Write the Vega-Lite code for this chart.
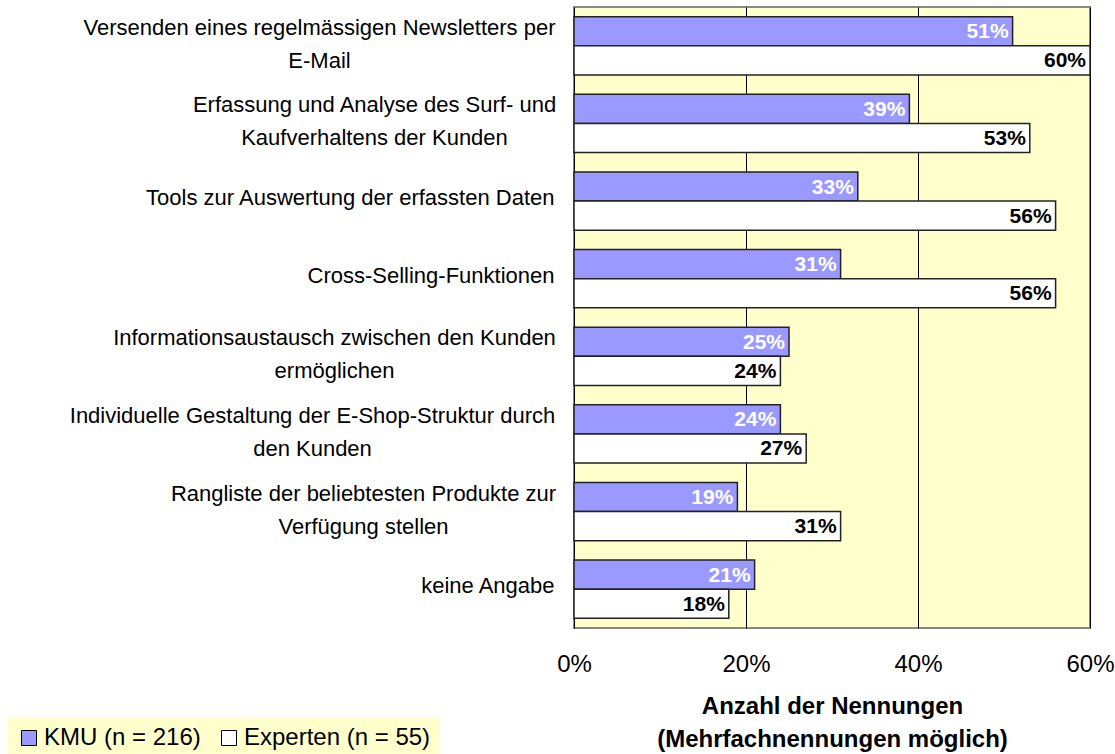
{
  "$schema": "https://vega.github.io/schema/vega-lite/v6.json",
  "autosize": "none",
  "width": 516,
  "height": 621,
  "padding": {"left": 574, "top": 7, "right": 25, "bottom": 126},
  "background": "#FFFFFF",
  "config": {
    "font": "Liberation Sans",
    "view": {"stroke": "#888888", "strokeWidth": 2, "fill": "#FFFFCC"}
  },
  "data": {
    "values": [
      {"cat": "Versenden eines regelmässigen Newsletters per|E-Mail", "grp": "KMU (n = 216)", "v": 0.51},
      {"cat": "Versenden eines regelmässigen Newsletters per|E-Mail", "grp": "Experten (n = 55)", "v": 0.60},
      {"cat": "Erfassung und Analyse des Surf- und|Kaufverhaltens der Kunden", "grp": "KMU (n = 216)", "v": 0.39},
      {"cat": "Erfassung und Analyse des Surf- und|Kaufverhaltens der Kunden", "grp": "Experten (n = 55)", "v": 0.53},
      {"cat": "Tools zur Auswertung der erfassten Daten", "grp": "KMU (n = 216)", "v": 0.33},
      {"cat": "Tools zur Auswertung der erfassten Daten", "grp": "Experten (n = 55)", "v": 0.56},
      {"cat": "Cross-Selling-Funktionen", "grp": "KMU (n = 216)", "v": 0.31},
      {"cat": "Cross-Selling-Funktionen", "grp": "Experten (n = 55)", "v": 0.56},
      {"cat": "Informationsaustausch zwischen den Kunden|ermöglichen", "grp": "KMU (n = 216)", "v": 0.25},
      {"cat": "Informationsaustausch zwischen den Kunden|ermöglichen", "grp": "Experten (n = 55)", "v": 0.24},
      {"cat": "Individuelle Gestaltung der E-Shop-Struktur durch|den Kunden", "grp": "KMU (n = 216)", "v": 0.24},
      {"cat": "Individuelle Gestaltung der E-Shop-Struktur durch|den Kunden", "grp": "Experten (n = 55)", "v": 0.27},
      {"cat": "Rangliste der beliebtesten Produkte zur|Verfügung stellen", "grp": "KMU (n = 216)", "v": 0.19},
      {"cat": "Rangliste der beliebtesten Produkte zur|Verfügung stellen", "grp": "Experten (n = 55)", "v": 0.31},
      {"cat": "keine Angabe", "grp": "KMU (n = 216)", "v": 0.21},
      {"cat": "keine Angabe", "grp": "Experten (n = 55)", "v": 0.18}
    ]
  },
  "encoding": {
    "y": {
      "field": "cat",
      "type": "nominal",
      "sort": null,
      "scale": {"paddingInner": 0.25, "paddingOuter": 0.125},
      "axis": {
        "title": null,
        "labelExpr": "split(datum.label, '|')",
        "labelFontSize": 22,
        "labelColor": "#000000",
        "labelLineHeight": 33,
        "labelOffset": {"condition": {"test": "indexof(datum.value, '|') >= 0", "value": -18}, "value": -3},
        "labelAlign": {"condition": {"test": "indexof(datum.value, '|') >= 0", "value": "center"}, "value": "right"},
        "labelPadding": {
          "condition": [
            {"test": "indexof(datum.value, 'Versenden') >= 0", "value": 255},
            {"test": "indexof(datum.value, 'Erfassung') >= 0", "value": 200},
            {"test": "indexof(datum.value, 'Informations') >= 0", "value": 240},
            {"test": "indexof(datum.value, 'Individuelle') >= 0", "value": 262},
            {"test": "indexof(datum.value, 'Rangliste') >= 0", "value": 211}
          ],
          "value": 20
        },
        "labelLimit": 600,
        "ticks": false,
        "domain": false
      }
    },
    "yOffset": {
      "field": "grp",
      "type": "nominal",
      "sort": ["KMU (n = 216)", "Experten (n = 55)"],
      "scale": {"paddingInner": 0, "paddingOuter": 0}
    },
    "x": {
      "field": "v",
      "type": "quantitative",
      "scale": {"domain": [0, 0.6], "nice": false},
      "axis": {
        "title": ["Anzahl der Nennungen", "(Mehrfachnennungen möglich)"],
        "titleFontSize": 24,
        "titleFontWeight": "bold",
        "titleColor": "#000000",
        "titleLineHeight": 33,
        "titlePadding": 18,
        "format": ".0%",
        "values": [0, 0.2, 0.4, 0.6],
        "labelFlush": false,
        "labelFontSize": 24,
        "labelColor": "#000000",
        "labelPadding": 24,
        "ticks": false,
        "domain": false,
        "grid": true,
        "gridColor": "#000000",
        "gridWidth": 1,
        "gridOpacity": 1
      }
    }
  },
  "layer": [
    {
      "mark": {"type": "bar", "stroke": "#222222", "strokeWidth": 1.5},
      "encoding": {
        "color": {
          "field": "grp",
          "type": "nominal",
          "scale": {"domain": ["KMU (n = 216)", "Experten (n = 55)"], "range": ["#9999FF", "#FFFFFF"]},
          "legend": {
            "title": null,
            "orient": "none",
            "legendX": -566,
            "legendY": 710,
            "direction": "horizontal",
            "fillColor": "#FFFFCC",
            "padding": 9,
            "labelFontSize": 24,
            "labelColor": "#000000",
            "symbolType": "square",
            "symbolSize": 225,
            "symbolStrokeColor": "#000000",
            "symbolStrokeWidth": 1,
            "symbolOpacity": 1,
            "labelOffset": 3,
            "columnPadding": 16,
            "labelLimit": 400
          }
        }
      }
    },
    {
      "mark": {"type": "text", "align": "right", "baseline": "middle", "dx": -4, "dy": 1, "fontSize": 21, "fontWeight": "bold"},
      "encoding": {
        "text": {"field": "v", "type": "quantitative", "format": ".0%"},
        "color": {
          "condition": {"test": "datum.grp === 'KMU (n = 216)'", "value": "#FFFFFF"},
          "value": "#000000"
        }
      }
    }
  ]
}
